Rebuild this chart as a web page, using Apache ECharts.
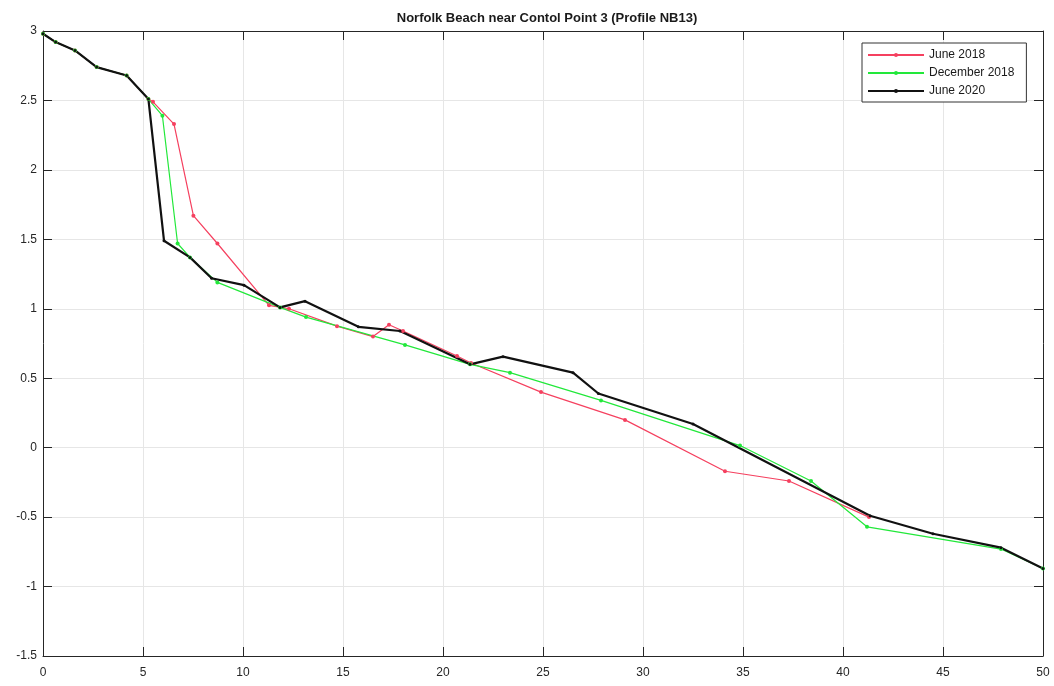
<!DOCTYPE html>
<html>
<head>
<meta charset="utf-8">
<title>Norfolk Beach profile NB13</title>
<script src="https://cdn.jsdelivr.net/npm/echarts@6/dist/echarts.min.js"></script>
<style>
  html, body { margin: 0; padding: 0; background: #ffffff; }
  #chart { width: 1054px; height: 686px; }
</style>
</head>
<body>
<div id="chart"></div>
<script>
// Cross-shore distance (m) and elevation (m) for each survey of profile NB13
const june2018X = [0, 0.63, 1.6, 2.68, 4.18, 5.27, 5.5, 6.55, 7.52, 8.72, 11.3, 12.3, 14.7, 16.5, 17.3, 18.0, 20.7, 21.4, 24.9, 29.1, 34.1, 37.3, 41.3];
const june2018Y = [2.98, 2.92, 2.86, 2.74, 2.68, 2.51, 2.49, 2.33, 1.67, 1.47, 1.025, 1.0, 0.875, 0.80, 0.885, 0.84, 0.66, 0.61, 0.40, 0.20, -0.17, -0.24, -0.50];

const dec2018X = [0, 0.63, 1.6, 2.68, 4.18, 5.27, 5.97, 6.73, 7.35, 8.72, 11.85, 13.15, 18.1, 21.35, 23.35, 27.9, 34.85, 38.4, 41.2, 47.9, 50];
const dec2018Y = [2.98, 2.92, 2.86, 2.74, 2.68, 2.51, 2.39, 1.47, 1.37, 1.19, 1.01, 0.94, 0.74, 0.60, 0.54, 0.34, 0.015, -0.24, -0.57, -0.73, -0.87];

const june2020X = [0, 0.63, 1.6, 2.68, 4.18, 5.27, 6.05, 7.35, 8.43, 10.05, 11.85, 13.1, 15.77, 17.85, 21.35, 23.0, 26.5, 27.77, 32.5, 41.35, 44.5, 47.9, 50];
const june2020Y = [2.98, 2.92, 2.86, 2.74, 2.68, 2.51, 1.49, 1.37, 1.22, 1.17, 1.01, 1.055, 0.87, 0.84, 0.60, 0.655, 0.54, 0.39, 0.17, -0.49, -0.62, -0.72, -0.87];

const seriesNames = ['June 2018', 'December 2018', 'June 2020'];
const xTicks = { min: 0, max: 50, step: 5 };
const yTicks = { min: -1.5, max: 3, step: 0.5 };

const pairs = (xs, ys) => xs.map((x, i) => [x, ys[i]]);

const FONT = '"Liberation Sans", Arial, Helvetica, sans-serif';
const AXIS_COLOR = '#262626';

const chart = echarts.init(document.getElementById('chart'), null, { renderer: 'canvas' });

function lineSeries(name, data, color, width, symSize) {
  return {
    name: name,
    type: 'line',
    data: data,
    xAxisIndex: 0,
    yAxisIndex: 0,
    symbol: 'circle',
    symbolSize: symSize,
    showSymbol: true,
    animation: false,
    lineStyle: { color: color, width: width },
    itemStyle: { color: color },
    emphasis: { disabled: true }
  };
}

const baseX = {
  type: 'value',
  min: xTicks.min, max: xTicks.max, interval: xTicks.step,
  axisLine: { show: true, onZero: false, lineStyle: { color: AXIS_COLOR, width: 1 } },
  axisTick: { show: true, inside: true, length: 9, lineStyle: { color: AXIS_COLOR } }
};
const baseY = {
  type: 'value',
  min: yTicks.min, max: yTicks.max, interval: yTicks.step,
  axisLine: { show: true, onZero: false, lineStyle: { color: AXIS_COLOR, width: 1 } },
  axisTick: { show: true, inside: true, length: 9, lineStyle: { color: AXIS_COLOR } }
};

chart.setOption({
  backgroundColor: '#ffffff',
  animation: false,
  title: {
    text: 'Norfolk Beach near Contol Point 3 (Profile NB13)',
    left: 542, top: 7, textAlign: 'center',
    textStyle: { fontFamily: FONT, fontSize: 13, fontWeight: 'bold', color: '#1a1a1a' }
  },
  grid: { left: 43, right: 11, top: 31, bottom: 30, containLabel: false },
  legend: {
    data: seriesNames,
    orient: 'vertical',
    left: 862, top: 43,
    padding: [6, 12, 5, 5],
    itemGap: 6,
    itemWidth: 56,
    itemHeight: 5,
    borderColor: '#333333',
    borderWidth: 1,
    backgroundColor: '#ffffff',
    textStyle: { fontFamily: FONT, fontSize: 12, color: '#1a1a1a' },
    selectedMode: false
  },
  xAxis: [
    Object.assign({}, baseX, {
      position: 'bottom',
      axisLabel: { show: true, margin: 11, fontFamily: FONT, fontSize: 12, color: '#262626' },
      splitLine: { show: true, lineStyle: { color: '#e6e6e6', width: 1 } }
    }),
    Object.assign({}, baseX, {
      position: 'top',
      axisLabel: { show: false },
      splitLine: { show: false }
    })
  ],
  yAxis: [
    Object.assign({}, baseY, {
      position: 'left',
      axisLabel: { show: true, margin: 6, fontFamily: FONT, fontSize: 12, color: '#262626' },
      splitLine: { show: true, lineStyle: { color: '#e6e6e6', width: 1 } }
    }),
    Object.assign({}, baseY, {
      position: 'right',
      axisLabel: { show: false },
      splitLine: { show: false }
    })
  ],
  series: [
    lineSeries(seriesNames[0], pairs(june2018X, june2018Y), '#f5405f', 1.2, 4),
    lineSeries(seriesNames[1], pairs(dec2018X, dec2018Y), '#22e83a', 1.2, 4),
    lineSeries(seriesNames[2], pairs(june2020X, june2020Y), '#111111', 2.2, 3)
  ]
});
</script>
</body>
</html>
